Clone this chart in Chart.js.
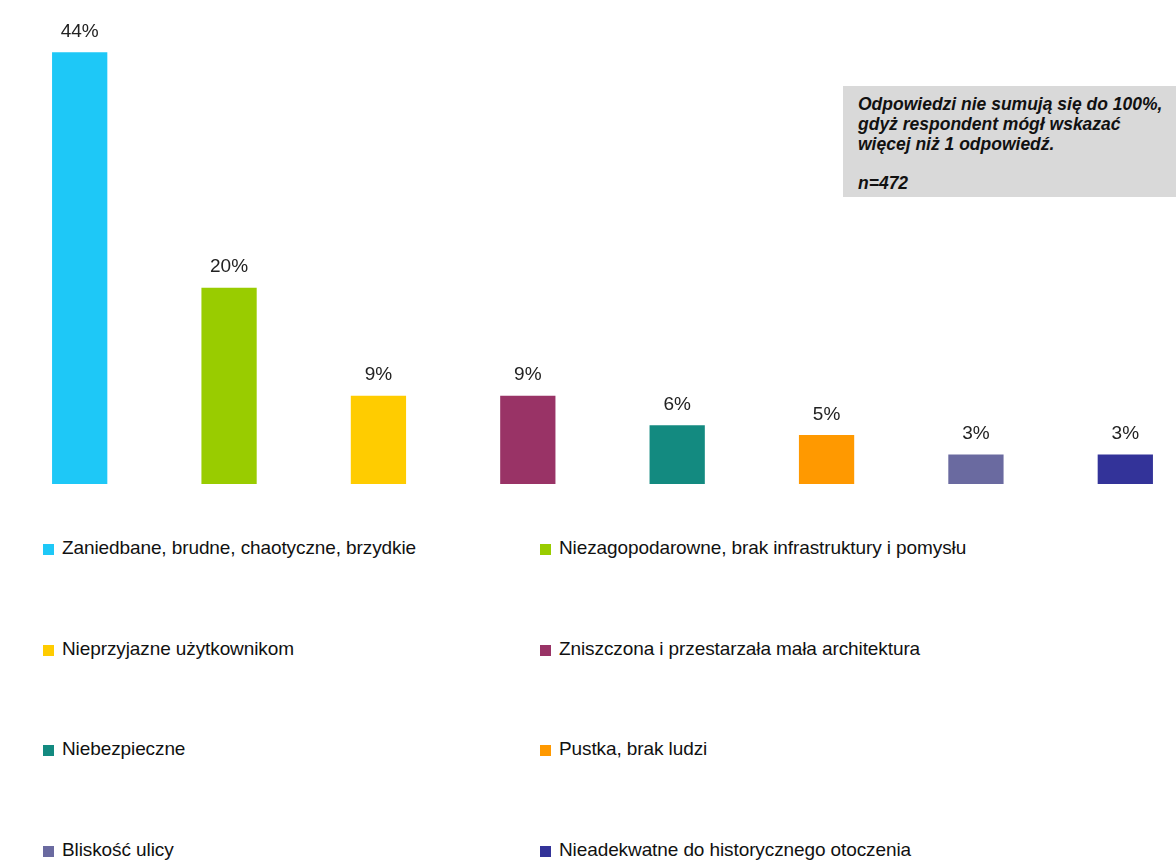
<!DOCTYPE html>
<html lang="pl">
<head>
<meta charset="utf-8">
<script src="https://cdn.jsdelivr.net/npm/chart.js@4/dist/chart.umd.min.js"></script>
<style>
  html, body { margin: 0; padding: 0; background: #fff; overflow: hidden; }
  body { width: 1176px; height: 863px; position: relative; font-family: "Liberation Sans", Arial, sans-serif; }
  #wrap { position: absolute; left: 0; top: 0; width: 1200px; height: 490px; }
  .note {
    position: absolute; left: 843px; top: 86px; width: 333px; height: 111px;
    background: #d9d9d9; box-sizing: border-box; padding: 8px 0 0 15px;
    font: italic bold 17.5px "Liberation Sans", Arial, sans-serif; line-height: 20px; color: #111;
    white-space: nowrap; overflow: hidden;
  }
  .note .n { margin-top: 19px; }
  #legend { position: absolute; left: 43px; top: 537px; display: grid; grid-template-columns: 497px 400px; grid-auto-rows: 100.5px; }
  .item { display: flex; align-items: flex-start; font-size: 19px; color: #111; letter-spacing: -0.1px; white-space: nowrap; }
  .box { width: 11px; height: 11px; margin: 7px 8px 0 0; flex: none; }
</style>
</head>
<body>
<div id="wrap"><canvas id="barChart"></canvas></div>
<div class="note">
  Odpowiedzi nie sumują się do 100%,<br>gdyż respondent mógł wskazać<br>więcej niż 1 odpowiedź.
  <div class="n">n=472</div>
</div>
<div id="legend"></div>
<script>
// Kategorie i wartości (%)
const kategorie = [
    'Zaniedbane, brudne, chaotyczne, brzydkie',
    'Niezagopodarowne, brak infrastruktury i pomysłu',
    'Nieprzyjazne użytkownikom',
    'Zniszczona i przestarzała mała architektura',
    'Niebezpieczne',
    'Pustka, brak ludzi',
    'Bliskość ulicy',
    'Nieadekwatne do historycznego otoczenia'
];
const wartosci = [44, 20, 9, 9, 6, 5, 3, 3];
const kolory = ['#1ec8f7', '#99cc00', '#ffcc00', '#993366', '#138a80', '#ff9900', '#6a6aa0', '#333399'];

// etykiety z procentami nad słupkami
const etykietyPlugin = {
    id: 'etykiety',
    afterDatasetsDraw(chart) {
        const ctx = chart.ctx;
        const meta = chart.getDatasetMeta(0);
        ctx.save();
        ctx.font = '19px "Liberation Sans", Arial, sans-serif';
        ctx.fillStyle = '#222';
        ctx.textAlign = 'center';
        ctx.textBaseline = 'bottom';
        meta.data.forEach((bar, i) => {
            ctx.fillText(wartosci[i] + '%', bar.x, bar.y - 11);
        });
        ctx.restore();
    }
};

const chart = new Chart(document.getElementById('barChart'), {
    type: 'bar',
    data: {
        labels: kategorie,
        datasets: [{
            data: wartosci,
            backgroundColor: kolory,
            barPercentage: 0.37,
            categoryPercentage: 1
        }]
    },
    options: {
        responsive: true,
        maintainAspectRatio: false,
        animation: false,
        layout: { padding: { left: 5, right: 0, top: 13, bottom: 6 } },
        scales: {
            x: { display: false },
            y: { display: false, min: 0, max: 48 }
        },
        plugins: {
            legend: { display: false },
            tooltip: { enabled: false }
        }
    },
    plugins: [etykietyPlugin]
});

// legenda w dwóch kolumnach
const legenda = document.getElementById('legend');
kategorie.forEach((nazwa, i) => {
    const el = document.createElement('div');
    el.className = 'item';
    el.innerHTML = '<span class="box" style="background:' + kolory[i] + '"></span><span></span>';
    el.lastChild.textContent = nazwa;
    legenda.appendChild(el);
});
</script>
</body>
</html>
